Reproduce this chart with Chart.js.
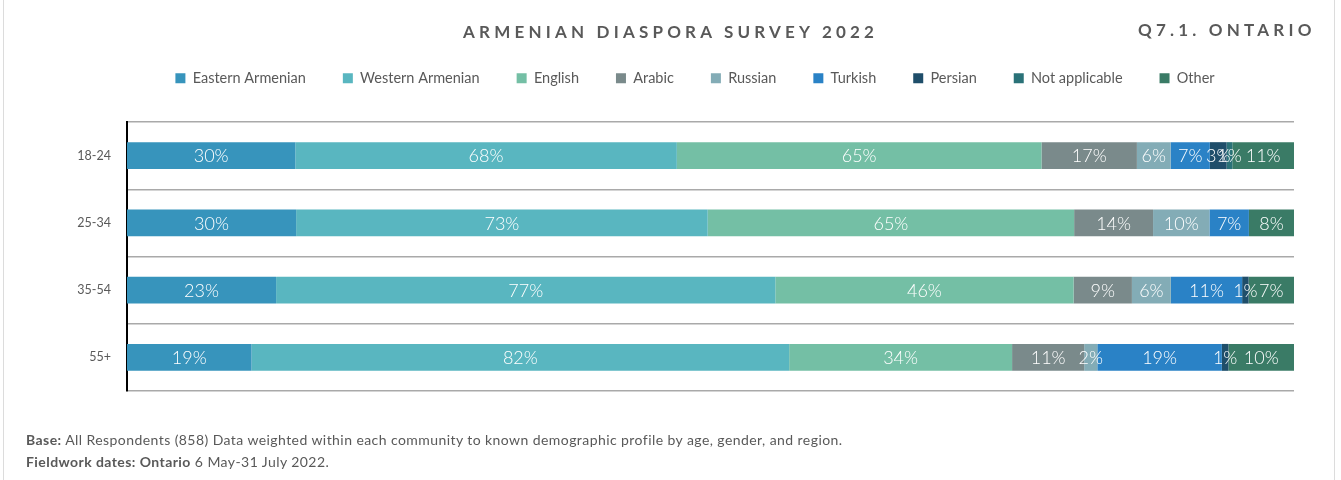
<!DOCTYPE html>
<html lang="en">
<head>
  <meta charset="UTF-8">
  <title>Armenian Diaspora Survey 2022 - Q7.1 Ontario</title>
  <script src="https://cdn.jsdelivr.net/npm/chart.js"></script>
  <style>
    html, body { margin: 0; padding: 0; background: #fff; }
    .page { position: relative; width: 1341px; height: 480px; overflow: hidden; font-family: Lato, "Open Sans", sans-serif; color: #595959; }
    .page canvas { position: absolute; left: 0; top: 0; }
    .edge { position: absolute; top: 0; bottom: 0; width: 1px; background: #dcdcdc; }
    .title { position: absolute; top: 21px; left: 463px; font-size: 17px; font-weight: bold; letter-spacing: 4.2px; white-space: nowrap; }
    .qref { position: absolute; top: 19px; left: 1138px; font-size: 17px; font-weight: bold; letter-spacing: 4.2px; white-space: nowrap; }
    .note { position: absolute; left: 26px; font-size: 14px; letter-spacing: 0.43px; white-space: nowrap; }
  </style>
</head>
<body>
  <div class="page">
    <canvas id="grafico" width="1341" height="480"></canvas>
    <div class="edge" style="left:3px"></div>
    <div class="edge" style="left:1334px"></div>
    <div class="title">ARMENIAN DIASPORA SURVEY 2022</div>
    <div class="qref">Q7.1. ONTARIO</div>
    <div class="note" style="top:431px"><b>Base:</b> All Respondents (858) Data weighted within each community to known demographic profile by age, gender, and region.</div>
    <div class="note" style="top:453px"><b>Fieldwork dates: Ontario</b> 6 May-31 July 2022.</div>
  </div>

  <script>
    // age groups and answers (% of respondents, multiple answers allowed)
    const grupos = ["18-24", "25-34", "35-54", "55+"];
    const easternArmenian = [30, 30, 23, 19];
    const westernArmenian = [68, 73, 77, 82];
    const english = [65, 65, 46, 34];
    const arabic = [17, 14, 9, 11];
    const russian = [6, 10, 6, 2];
    const turkish = [7, 7, 11, 19];
    const persian = [3, 0, 1, 1];
    const notApplicable = [1, 0, 0, 0];
    const other = [11, 8, 7, 10];

    const series = [
      { label: "Eastern Armenian", values: easternArmenian, color: "#3794bc" },
      { label: "Western Armenian", values: westernArmenian, color: "#59b6c0" },
      { label: "English", values: english, color: "#74bfa5" },
      { label: "Arabic", values: arabic, color: "#7a8a8b" },
      { label: "Russian", values: russian, color: "#83acb6" },
      { label: "Turkish", values: turkish, color: "#2a82c6" },
      { label: "Persian", values: persian, color: "#1f4e6a" },
      { label: "Not applicable", values: notApplicable, color: "#2a7278" },
      { label: "Other", values: other, color: "#3a7b66" }
    ];

    // each row is drawn as a 100% bar
    const totales = grupos.map((g, i) => series.reduce((s, d) => s + d.values[i], 0));

    const etiquetas = {
      id: "etiquetas",
      afterDatasetsDraw(chart) {
        const ctx = chart.ctx;
        ctx.save();
        ctx.fillStyle = "#ffffff";
        ctx.font = "300 18px Lato, 'DejaVu Sans', sans-serif";
        ctx.textAlign = "center";
        ctx.textBaseline = "middle";
        chart.data.datasets.forEach((ds, di) => {
          chart.getDatasetMeta(di).data.forEach((bar, i) => {
            const v = ds.raw[i];
            if (!v) return;
            const x = (bar.x + bar.base) / 2;
            ctx.fillText(v + "%", x, bar.y + 1);
          });
        });
        ctx.restore();
      }
    };

    // the legend in the original sits a bit right of the canvas centre
    const moverLeyenda = {
      id: "moverLeyenda",
      afterLayout(chart) {
        chart.legend.left += 24;
        chart.legend.right += 24;
      }
    };

    new Chart(document.getElementById("grafico"), {
      type: "bar",
      data: {
        labels: grupos,
        datasets: series.map(s => ({
          label: s.label,
          raw: s.values,
          data: s.values.map((v, i) => v / totales[i] * 100),
          backgroundColor: s.color,
          borderWidth: 0,
          barPercentage: 0.4,
          categoryPercentage: 1
        }))
      },
      options: {
        indexAxis: "y",
        responsive: false,
        animation: false,
        layout: { padding: { left: 48, right: 47, top: 34, bottom: 89 } },
        plugins: {
          legend: {
            position: "top",
            labels: {
              boxWidth: 10,
              boxHeight: 10,
              padding: 37,
              color: "#595959",
              font: { family: "Lato, 'Open Sans', sans-serif", size: 14.5 }
            }
          },
          tooltip: { enabled: false }
        },
        scales: {
          x: {
            position: "top",
            stacked: true,
            min: 0,
            max: 100,
            ticks: { display: false },
            grid: { display: false },
            border: { display: false },
            afterFit: s => { s.height = 26.5; }
          },
          y: {
            stacked: true,
            grid: { color: "#a9a9a9", lineWidth: 1.5, drawTicks: false },
            border: { color: "#000000", width: 2 },
            ticks: { color: "#595959", padding: 16, font: { family: "Lato, 'Open Sans', sans-serif", size: 12.5 } },
            afterFit: s => { s.width = 79; }
          }
        }
      },
      plugins: [etiquetas, moverLeyenda]
    });
  </script>
</body>
</html>
